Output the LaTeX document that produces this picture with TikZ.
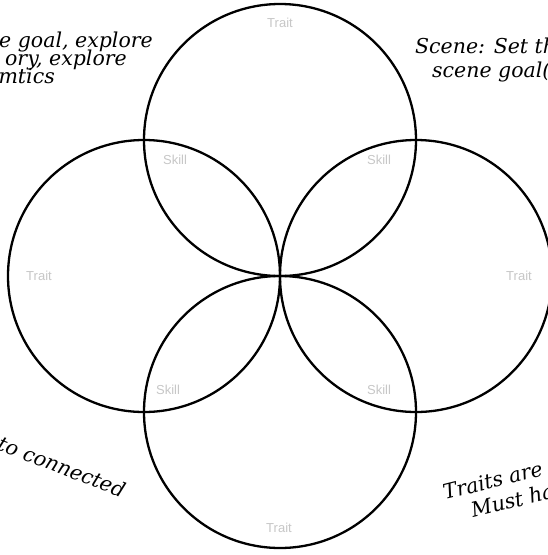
\documentclass[tikz,border=0pt]{standalone}
\usepackage{fontspec}
\setmainfont{DejaVu Serif}
\newfontfamily\labelfont{Liberation Sans}
\begin{document}
\begin{tikzpicture}[x=1pt,y=-1pt,
  ring/.style={circle, draw=black, line width=2.3pt, minimum size=272pt, inner sep=0pt},
  faint/.style={text=black!22, font=\labelfont\fontsize{13}{13}\selectfont, inner sep=0pt},
  note/.style={font=\itshape\fontsize{20.5}{20.5}\selectfont, inner sep=0pt, text=black}]
\useasboundingbox (0,0) rectangle (548,555);
\clip (0,0) rectangle (548,555);
\fill[white] (0,0) rectangle (548,555);
% circles
\node[ring] (top) at (280,140) {};
\node[ring] (left) at (144,276) {};
\node[ring] (right) at (416,276) {};
\node[ring] (bottom) at (280,412) {};
% trait labels
\node[faint] (t1) at (280,23) {Trait};
\node[faint] (t2) at (39,276) {Trait};
\node[faint] (t3) at (519,276) {Trait};
\node[faint] (t4) at (279,528) {Trait};
% skill labels
\node[faint] (s1) at (175,160) {Skill};
\node[faint] (s2) at (379,160) {Skill};
\node[faint] (s3) at (168,390) {Skill};
\node[faint] (s4) at (379,390) {Skill};
% notes
\node[note, anchor=base east] (n1) at (153,47) {e goal, explore};
\node[note, anchor=base east] (n2) at (127,65) {ory, explore};
\node[note, anchor=base east] (n3) at (55,83) {amtics};
\node[note, anchor=base west] (n4) at (415,53) {Scene: Set th};
\node[note, anchor=base west] (n5) at (432,77) {scene goal(};
\node[note, anchor=base east, rotate=-21] (n6) at (122,498) {to connected};
\node[note, anchor=base west, rotate=14] (n7) at (445,500) {Traits are p};
\node[note, anchor=base west, rotate=14] (n8) at (473,518) {Must ha};
\end{tikzpicture}
\end{document}
